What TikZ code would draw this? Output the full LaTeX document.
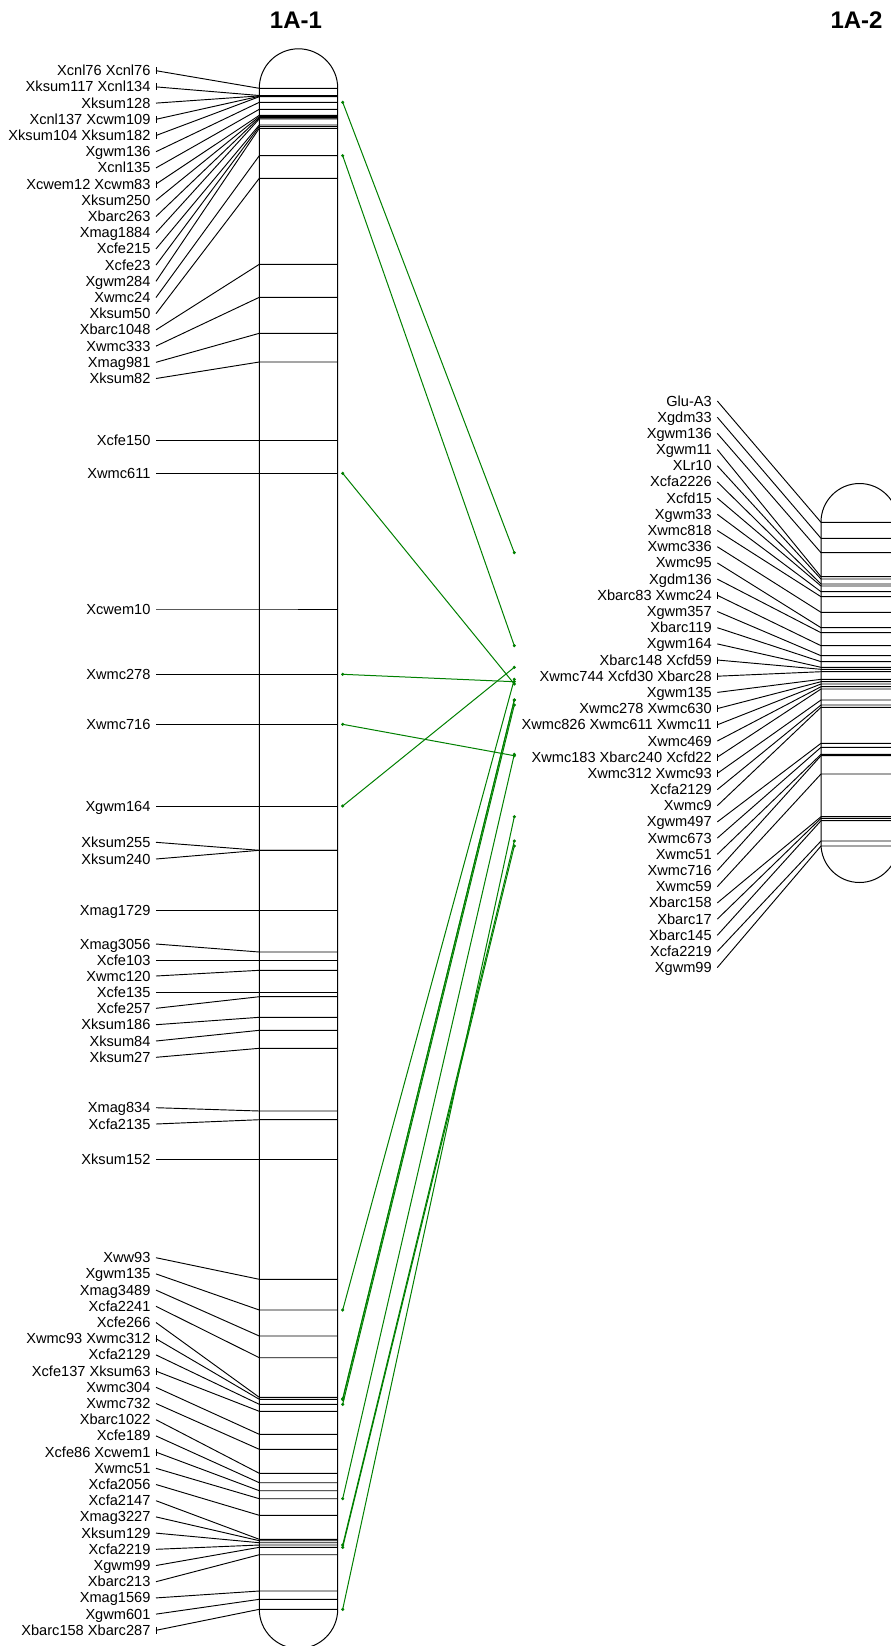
\documentclass[tikz,border=0pt]{standalone}
\usepackage{fontspec}
\setmainfont{Liberation Sans}
\definecolor{gcol}{RGB}{0,128,0}
\begin{document}
\begin{tikzpicture}[x=0.75pt,y=-0.75pt,
  lab/.style={anchor=base east,inner sep=0pt,font=\fontsize{10.95}{13}\selectfont},
  ttl/.style={anchor=base,inner sep=0pt,font=\fontsize{18}{20}\selectfont\bfseries},
  lead/.style={line width=0.7pt,black},
  chrom/.style={line width=0.75pt,black},
  gline/.style={line width=0.75pt,gcol}]
\useasboundingbox (0,0) rectangle (891,1646);
\clip (0,0) rectangle (891,1646);
\fill[white] (0,0) rectangle (891,1646);
% titles
\node[ttl] (T1) at (296,28.3) {1A-1};
\node[ttl] (T2) at (856.5,28.3) {1A-2};
% chromosomes
\draw[chrom,rounded corners=29.4pt] (259.3,48.8) rectangle (337.7,1648.5);
\draw[chrom,rounded corners=28.9pt] (821,483.5) rectangle (898,882.5);
% left chromosome labels
\foreach \ly/\by/\tk/\txt [count=\i] in {
70.7/88.3/1/Xcnl76 Xcnl76,
86.9/95.5/1/Xksum117 Xcnl134,
103.1/95.9/0/Xksum128,
119.3/96.3/1/Xcnl137 Xcwm109,
135.5/96.7/1/Xksum104 Xksum182,
151.7/102.3/0/Xgwm136,
167.9/109.3/0/Xcnl135,
184.1/115.3/1/Xcwem12 Xcwm83,
200.3/116.5/0/Xksum250,
216.5/117.7/0/Xbarc263,
232.7/118.9/0/Xmag1884,
248.9/125/0/Xcfe215,
265.1/126.5/0/Xcfe23,
281.3/128.3/0/Xgwm284,
297.5/155.7/0/Xwmc24,
313.7/178.3/0/Xksum50,
329.9/264.3/0/Xbarc1048,
346.1/297.3/0/Xwmc333,
362.3/333.3/0/Xmag981,
378.5/362/0/Xksum82,
440.3/440.3/0/Xcfe150,
473.3/473.3/0/Xwmc611,
609/609/0/Xcwem10,
674.3/674.3/0/Xwmc278,
724.3/724.3/0/Xwmc716,
806/806/0/Xgwm164,
842.3/850.3/0/Xksum255,
859/850.3/0/Xksum240,
910.3/910.3/0/Xmag1729,
944/952/0/Xmag3056,
960/960/0/Xcfe103,
976/970.3/0/Xwmc120,
992.3/992.3/0/Xcfe135,
1008.3/996.7/0/Xcfe257,
1024.7/1017.3/0/Xksum186,
1041/1030.3/0/Xksum84,
1057.3/1048.3/0/Xksum27,
1107.7/1111/0/Xmag834,
1124/1119.7/0/Xcfa2135,
1159/1159/0/Xksum152,
1257.7/1279.3/0/Xww93,
1273.9/1310/0/Xgwm135,
1290.1/1336/0/Xmag3489,
1306.3/1357.7/0/Xcfa2241,
1322.5/1397.3/0/Xcfe266,
1338.7/1399.3/1/Xwmc93 Xwmc312,
1354.9/1404.3/0/Xcfa2129,
1371.1/1411.3/1/Xcfe137 Xksum63,
1387.3/1434.3/0/Xwmc304,
1403.5/1449.3/0/Xwmc732,
1419.7/1473.3/0/Xbarc1022,
1435.9/1482.7/0/Xcfe189,
1452.1/1490.7/1/Xcfe86 Xcwem1,
1468.3/1498.7/0/Xwmc51,
1484.5/1515.3/0/Xcfa2056,
1500.7/1539.3/0/Xcfa2147,
1516.9/1540.7/0/Xmag3227,
1533.1/1542.7/0/Xksum129,
1549.3/1545/0/Xcfa2219,
1565.5/1547.3/0/Xgwm99,
1581.7/1554.7/0/Xbarc213,
1597.9/1591/0/Xmag1569,
1614.1/1599.3/0/Xgwm601,
1630.3/1609.3/1/Xbarc158 Xbarc287}{
  \node[lab] (L\i) at (150.7,\ly+5) {\txt};
  \coordinate (LS\i) at (156,\ly);
  \coordinate (LB\i) at (259.3,\by);
  \coordinate (LE\i) at (337.7,\by);
  \draw[lead] (LS\i) -- (LB\i) -- (LE\i);
  \ifnum\tk=1 \draw[lead] (156,\ly-3.5) -- (156,\ly+3.5); \fi
}
% right chromosome labels
\foreach \ly/\by/\tk/\txt [count=\i] in {
401/522.3/0/Glu-A3,
417.2/538.3/0/Xgdm33,
433.4/552.7/0/Xgwm136,
449.6/576.7/0/Xgwm11,
465.8/579/0/XLr10,
481.9/584/0/Xcfa2226,
498.1/586/0/Xcfd15,
514.3/591.7/0/Xgwm33,
530.5/596.7/0/Xwmc818,
546.7/612.3/0/Xwmc336,
562.9/627.7/0/Xwmc95,
579.1/632.7/0/Xgdm136,
595.3/645.7/1/Xbarc83 Xwmc24,
611.5/655.7/0/Xgwm357,
627.7/661.7/0/Xbarc119,
643.9/667.3/0/Xgwm164,
660.0/669.3/1/Xbarc148 Xcfd59,
676.2/671.7/1/Xwmc744 Xcfd30 Xbarc28,
692.4/679.3/0/Xgwm135,
708.6/681.7/1/Xwmc278 Xwmc630,
724.8/684/1/Xwmc826 Xwmc611 Xwmc11,
741.0/686.7/0/Xwmc469,
757.2/689/1/Xwmc183 Xbarc240 Xcfd22,
773.4/700/1/Xwmc312 Xwmc93,
789.6/705/0/Xcfa2129,
805.7/707.3/0/Xwmc9,
821.9/743.3/0/Xgwm497,
838.1/747.3/0/Xwmc673,
854.3/754.3/0/Xwmc51,
870.5/755.7/0/Xwmc716,
886.7/774/0/Xwmc59,
902.9/816.7/0/Xbarc158,
919.1/818.3/0/Xbarc17,
935.3/820.7/0/Xbarc145,
951.4/841/0/Xcfa2219,
967.6/846/0/Xgwm99}{
  \node[lab] (R\i) at (712,\ly+5) {\txt};
  \coordinate (RS\i) at (717.3,\ly);
  \coordinate (RB\i) at (821,\by);
  \coordinate (RE\i) at (898,\by);
  \draw[lead] (RS\i) -- (RB\i) -- (RE\i);
  \ifnum\tk=1 \draw[lead] (717.3,\ly-3.5) -- (717.3,\ly+3.5); \fi
}
% homology connectors
\foreach \a/\b [count=\i] in {
102.3/552.7, 155.7/645.7, 473.3/684, 674.3/681.7, 724.3/755.7,
806/667.3, 1310/679.3, 1398.6/700, 1399.6/700, 1404.3/705,
1498.7/754.3, 1545/841, 1547.3/846, 1609.3/816.7}{
  \coordinate (GA\i) at (342.7,\a);
  \coordinate (GB\i) at (514.3,\b);
  \draw[gline] (GA\i) -- (GB\i);
  \fill[gcol] (GA\i) circle (1.3pt) (GB\i) circle (1.3pt);
}
\end{tikzpicture}
\end{document}
